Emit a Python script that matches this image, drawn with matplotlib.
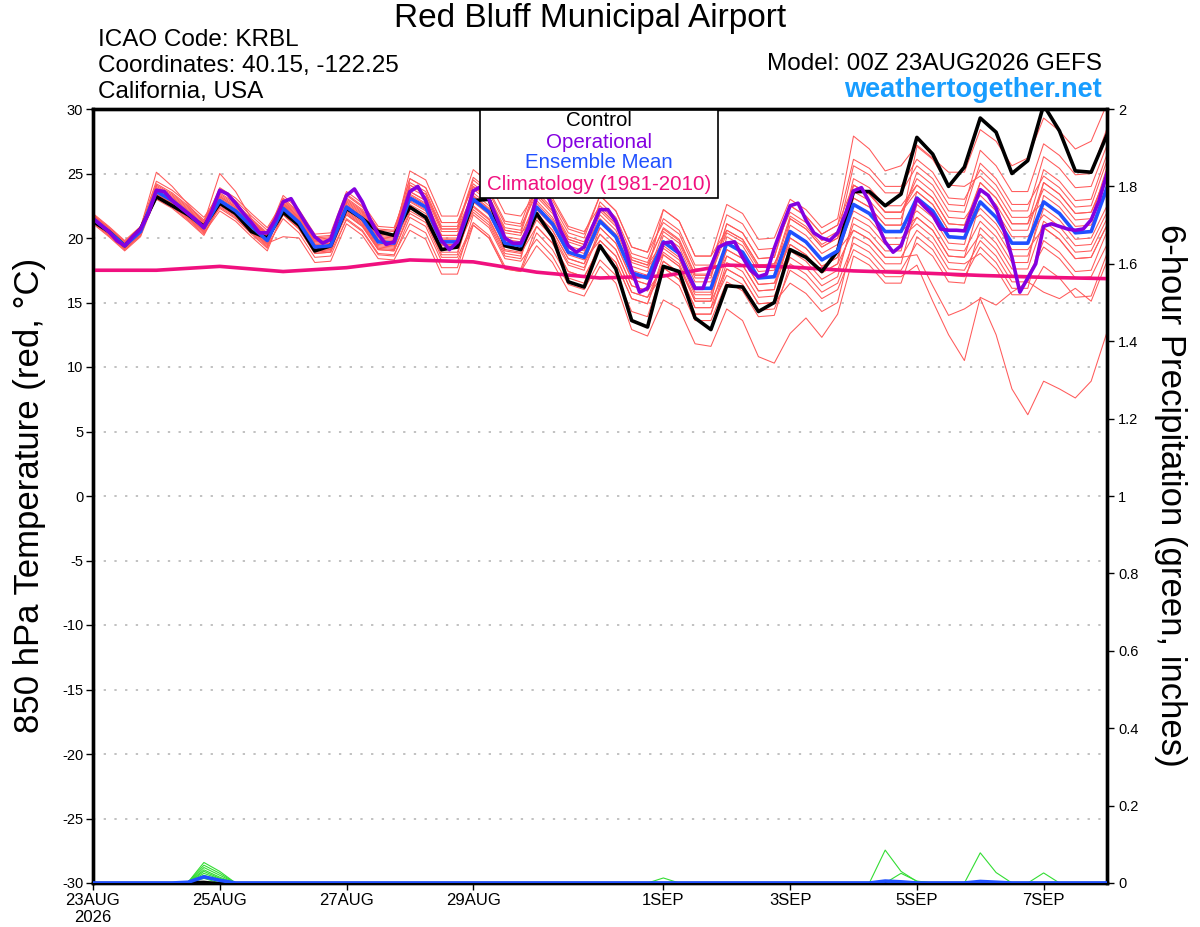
import numpy as np
import pandas as pd
import matplotlib
matplotlib.use("Agg")
import matplotlib.pyplot as plt
from matplotlib.patches import Rectangle

plt.rcParams['font.family'] = ['Liberation Sans', 'DejaVu Sans']

# ---------------- data ----------------
start = pd.Timestamp("2026-08-23 00:00")
times6 = pd.date_range(start, periods=65, freq="6h")
times3 = pd.date_range(start, periods=129, freq="3h")
times24 = pd.date_range(start, periods=17, freq="24h")

ens_mean = [21.5, 20.5, 19.4, 20.5, 23.6, 22.9, 21.9, 20.8, 22.9, 22.1, 20.9, 19.8,
            22.3, 21.2, 19.3, 19.4, 22.4, 21.5, 19.7, 19.6, 23.1, 22.4, 19.7, 19.7,
            23.0, 22.0, 19.6, 19.4, 22.4, 21.1, 18.9, 18.5, 21.3, 20.1, 17.3, 16.9,
            19.7, 18.8, 16.1, 16.1, 19.6, 18.9, 16.9, 17.0, 20.5, 19.7, 18.3, 19.0,
            22.6, 21.9, 20.5, 20.5, 23.1, 22.1, 20.1, 20.0, 22.8, 21.6, 19.6, 19.6,
            22.8, 21.9, 20.4, 20.5, 23.9]

control = [21.3, 20.5, 19.4, 20.7, 23.2, 22.5, 21.8, 20.9, 22.7, 21.9, 20.5, 20.0,
           22.0, 21.0, 19.0, 19.4, 22.3, 21.5, 20.5, 20.2, 22.4, 21.6, 19.1, 19.3,
           22.9, 23.0, 19.4, 19.1, 21.9, 20.1, 16.6, 16.2, 19.4, 17.6, 13.6, 13.1,
           17.8, 17.4, 13.8, 12.9, 16.3, 16.2, 14.3, 15.0, 19.1, 18.5, 17.4, 19.0,
           23.6, 23.6, 22.5, 23.4, 27.8, 26.5, 24.0, 25.5, 29.3, 28.2, 25.0, 26.0,
           30.3, 28.3, 25.2, 25.1, 28.0]

operational = [21.5, 21.0, 20.5, 19.8, 19.4, 20.1, 20.7, 21.9, 23.7, 23.6, 22.9, 22.4,
               21.9, 21.4, 20.8, 22.1, 23.7, 23.4, 22.7, 21.9, 21.2, 20.4, 20.4, 21.4,
               22.8, 23.05, 22.0, 21.0, 20.1, 19.6, 19.9, 21.7, 23.3, 23.8, 22.8, 21.4,
               20.3, 19.5, 19.7, 21.7, 23.6, 24.0, 22.9, 21.2, 19.8, 19.1, 19.7, 21.6,
               23.65, 24.0, 23.0, 21.5, 20.0, 19.6, 19.6, 20.8, 23.2, 23.9, 22.4, 20.6,
               19.4, 18.9, 19.3, 20.8, 22.2, 22.2, 21.3, 19.6, 17.5, 15.8, 16.1, 17.8,
               19.6, 19.7, 18.8, 17.3, 16.1, 16.1, 17.8, 19.3, 19.6, 19.7, 18.5, 17.5,
               17.0, 17.2, 19.2, 20.9, 22.5, 22.7, 21.4, 20.4, 20.0, 19.8, 20.4, 21.9,
               23.65, 23.9, 22.8, 21.1, 19.7, 18.9, 19.4, 21.1, 23.05, 22.4, 21.8, 20.7,
               20.6, 20.6, 20.55, 22.2, 23.75, 23.3, 22.3, 20.6, 18.5, 15.8, 16.9, 18.0,
               20.9, 21.1, 20.9, 20.7, 20.6, 20.7, 21.4, 22.9, 25.0]

climatology = [17.5, 17.5, 17.8, 17.4, 17.7, 18.3, 18.15, 17.35, 16.9, 17.05, 17.9,
               17.75, 17.45, 17.3, 17.1, 16.95, 16.85]

members = [
    [21.7, 20.7, 19.6, 20.7, 24.1, 23.4, 22.4, 21.3, 23.7, 22.9, 21.7, 20.6, 22.9, 21.8, 19.9, 20.0,
     23.3, 22.4, 20.6, 20.5, 24.6, 23.9, 21.2, 21.2, 24.2, 23.2, 20.8, 20.6, 24.2, 22.9, 20.7, 20.3,
     23.3, 22.1, 19.3, 18.9, 22.2, 21.3, 18.6, 18.6, 22.6, 21.9, 19.9, 20.0, 23.0, 22.2, 20.8, 21.5,
     27.9, 26.9, 25.2, 25.6, 27.2, 26.2, 25.1, 25.1, 28.4, 27.5, 25.6, 26.2, 29.3, 28.3, 26.9, 27.5, 30.4],
    [21.3, 20.3, 19.2, 20.3, 23.3, 22.6, 21.6, 20.5, 22.9, 22.1, 20.9, 19.8, 21.9, 20.8, 18.9, 19.0,
     22.2, 21.3, 19.5, 19.4, 22.3, 21.6, 18.9, 18.9, 22.5, 21.5, 19.1, 18.9, 21.4, 20.1, 17.9, 17.5,
     20.8, 19.6, 16.8, 16.4, 20.2, 19.3, 16.6, 16.6, 19.6, 18.9, 16.9, 17.0, 19.5, 18.7, 17.3, 18.0,
     20.6, 19.9, 18.5, 18.5, 18.7, 16.3, 14.0, 14.5, 15.3, 12.5, 8.3, 6.3, 8.9, 8.3, 7.6, 8.9, 12.7],
    [21.6, 20.6, 19.5, 20.6, 23.1, 22.4, 21.4, 20.3, 22.6, 21.8, 20.6, 19.5, 22.5, 21.4, 19.5, 19.6,
     21.8, 20.9, 19.1, 19.0, 21.9, 21.2, 18.5, 18.5, 21.2, 20.2, 17.8, 17.6, 20.9, 19.6, 17.4, 17.0,
     19.3, 18.1, 15.3, 14.9, 18.2, 17.3, 14.6, 14.6, 17.1, 16.4, 14.4, 14.5, 17.5, 16.7, 15.3, 16.0,
     19.1, 18.4, 17.0, 17.0, 17.9, 15.1, 12.5, 10.5, 15.4, 14.8, 15.8, 16.6, 15.8, 15.3, 16.1, 15.1, 18.2],
    [21.2, 20.2, 19.1, 20.2, 23.4, 22.7, 21.7, 20.6, 22.3, 21.5, 20.3, 19.2, 21.8, 20.7, 18.8, 18.9,
     21.4, 20.5, 18.7, 18.6, 21.6, 20.9, 18.2, 18.2, 21.0, 20.0, 17.6, 17.4, 19.4, 18.1, 15.9, 15.5,
     17.8, 16.5, 12.9, 12.4, 15.2, 14.5, 11.8, 11.6, 14.5, 13.6, 10.8, 10.3, 12.6, 13.8, 12.3, 14.1,
     18.6, 17.9, 16.5, 16.5, 20.1, 19.1, 17.1, 17.0, 19.3, 18.1, 16.1, 16.1, 20.8, 19.9, 18.4, 18.5, 21.0],
    [21.8, 20.8, 19.7, 20.8, 25.1, 24.0, 22.6, 21.2, 25.0, 23.6, 21.5, 20.2, 23.1, 22.0, 20.1, 20.2,
     22.9, 22.0, 20.2, 20.1, 25.2, 24.5, 21.7, 21.7, 25.3, 24.3, 21.9, 21.7, 23.6, 22.3, 20.1, 19.7,
     22.3, 21.1, 18.3, 17.9, 20.8, 19.9, 17.2, 17.2, 21.1, 20.4, 18.4, 18.5, 22.5, 21.7, 20.3, 21.0,
     26.1, 25.4, 24.0, 24.0, 26.1, 25.1, 23.1, 23.0, 25.3, 24.1, 22.1, 22.1, 26.3, 25.4, 23.9, 24.0, 27.2],
    [21.4, 20.4, 19.3, 20.4, 23.8, 23.1, 22.1, 21.0, 23.2, 22.4, 21.2, 20.1, 22.1, 21.0, 19.1, 19.2,
     22.7, 21.8, 20.0, 19.9, 23.6, 22.9, 20.2, 20.2, 23.8, 22.8, 20.4, 20.2, 22.9, 21.6, 19.4, 19.0,
     22.8, 21.6, 18.8, 18.4, 21.5, 20.6, 17.9, 17.9, 21.8, 21.1, 19.1, 19.2, 22.0, 21.2, 19.8, 20.5,
     23.6, 22.9, 21.5, 21.5, 25.1, 24.1, 22.1, 22.0, 25.8, 24.6, 22.6, 22.6, 24.8, 23.9, 22.4, 22.5, 26.0],
    [21.5, 20.5, 19.4, 20.5, 23.0, 22.3, 21.3, 20.2, 22.5, 21.7, 20.5, 19.4, 21.5, 20.4, 18.5, 18.6,
     21.5, 20.6, 18.8, 18.7, 21.1, 20.4, 17.7, 17.7, 21.8, 20.8, 18.4, 18.2, 19.9, 18.6, 16.4, 16.0,
     18.3, 17.1, 14.3, 13.9, 17.7, 16.8, 14.1, 14.1, 18.1, 17.4, 15.4, 15.5, 18.5, 17.7, 16.3, 17.0,
     21.6, 20.9, 19.5, 19.5, 21.6, 20.6, 18.6, 18.5, 20.3, 19.1, 17.1, 17.1, 19.3, 18.4, 16.9, 17.0, 19.5],
    [21.9, 20.9, 19.8, 20.9, 24.4, 23.7, 22.7, 21.6, 23.4, 22.6, 21.4, 20.3, 23.3, 22.2, 20.3, 20.4,
     23.6, 22.7, 20.9, 20.8, 23.9, 23.2, 20.5, 20.5, 23.3, 22.3, 19.9, 19.7, 21.9, 20.6, 18.4, 18.0,
     20.3, 19.1, 16.3, 15.9, 19.2, 18.3, 15.6, 15.6, 19.6, 18.9, 16.9, 17.0, 21.0, 20.2, 18.8, 19.5,
     24.6, 23.9, 22.5, 22.5, 24.1, 23.1, 21.1, 21.0, 21.8, 20.6, 18.6, 18.6, 22.3, 21.4, 19.9, 20.0, 22.5],
    [21.1, 20.1, 19.0, 20.1, 23.2, 22.5, 21.5, 20.4, 22.1, 21.3, 20.1, 19.0, 22.0, 20.9, 19.0, 19.1,
     22.6, 21.7, 19.9, 19.8, 24.1, 23.4, 20.7, 20.7, 24.5, 23.5, 21.1, 20.9, 23.4, 22.1, 19.9, 19.5,
     21.3, 20.1, 17.3, 16.9, 18.7, 17.8, 15.1, 15.1, 17.6, 16.9, 14.9, 15.0, 16.5, 15.7, 14.3, 15.0,
     20.1, 19.4, 18.0, 18.0, 22.6, 21.6, 19.6, 19.5, 23.8, 22.6, 20.6, 20.6, 24.3, 23.4, 21.9, 22.0, 24.8],
    [21.6, 20.6, 19.5, 20.6, 23.7, 23.0, 22.0, 20.9, 23.0, 22.2, 21.0, 19.9, 22.7, 21.6, 19.7, 19.8,
     22.1, 21.2, 19.4, 19.3, 22.6, 21.9, 19.2, 19.2, 22.0, 21.0, 18.6, 18.4, 22.7, 21.4, 19.2, 18.8,
     21.8, 20.6, 17.8, 17.4, 22.2, 21.3, 18.6, 18.6, 20.6, 19.9, 17.9, 18.0, 20.5, 19.7, 18.3, 19.0,
     22.1, 21.4, 20.0, 20.0, 21.1, 20.1, 18.1, 18.0, 18.8, 17.6, 15.6, 15.6, 17.8, 16.9, 15.4, 15.5, 18.8],
    [21.3, 20.3, 19.2, 20.3, 23.9, 23.2, 22.2, 21.1, 23.9, 23.1, 21.9, 20.8, 22.8, 21.7, 19.8, 19.9,
     22.8, 21.9, 20.1, 20.0, 24.1, 23.4, 20.7, 20.7, 23.5, 22.5, 20.1, 19.9, 22.2, 20.9, 18.7, 18.3,
     19.8, 18.6, 15.8, 15.4, 18.2, 17.3, 14.6, 14.6, 18.6, 17.9, 15.9, 16.0, 21.5, 20.7, 19.3, 20.0,
     24.1, 23.4, 22.0, 22.0, 23.6, 22.6, 20.6, 20.5, 24.3, 23.1, 21.1, 21.1, 23.8, 22.9, 21.4, 21.5, 25.5],
    [21.7, 20.7, 19.6, 20.7, 23.5, 22.8, 21.8, 20.7, 22.7, 21.9, 20.7, 19.6, 20.1, 20.0, 18.1, 18.2,
     21.1, 20.2, 18.4, 18.3, 20.6, 19.9, 17.2, 17.2, 21.0, 20.0, 17.6, 17.4, 20.4, 19.1, 16.9, 16.5,
     19.8, 18.6, 15.8, 15.4, 17.2, 16.3, 13.6, 13.6, 16.6, 15.9, 13.9, 14.0, 18.0, 17.2, 15.8, 16.5,
     19.6, 18.9, 17.5, 17.5, 19.6, 18.6, 16.6, 16.5, 20.8, 19.6, 17.6, 17.6, 21.3, 20.4, 18.9, 19.0, 21.5],
    [21.5, 20.5, 19.4, 20.5, 24.0, 23.3, 22.3, 21.2, 22.8, 22.0, 20.8, 19.7, 22.4, 21.3, 19.4, 19.5,
     23.0, 22.1, 20.3, 20.2, 24.3, 23.6, 20.9, 20.9, 24.7, 23.7, 21.3, 21.1, 24.4, 23.1, 20.9, 20.5,
     22.5, 21.3, 18.5, 18.1, 20.7, 19.8, 17.1, 17.1, 20.4, 19.7, 17.7, 17.8, 21.7, 20.9, 19.5, 20.2,
     25.6, 24.9, 23.5, 23.5, 25.6, 24.6, 22.6, 22.5, 26.8, 25.6, 23.6, 23.6, 27.3, 26.4, 24.9, 25.0, 28.5],
    [21.4, 20.4, 19.3, 20.4, 23.4, 22.7, 21.7, 20.6, 23.3, 22.5, 21.3, 20.2, 22.2, 21.1, 19.2, 19.3,
     22.0, 21.1, 19.3, 19.2, 22.8, 22.1, 19.4, 19.4, 23.2, 22.2, 19.8, 19.6, 23.4, 22.1, 19.9, 19.5,
     22.1, 20.9, 18.1, 17.7, 19.4, 18.5, 15.8, 15.8, 19.1, 18.4, 16.4, 16.5, 19.0, 18.2, 16.8, 17.5,
     21.1, 20.4, 19.0, 19.0, 23.6, 22.6, 20.6, 20.5, 22.3, 21.1, 19.1, 19.1, 20.8, 19.9, 18.4, 18.5, 21.0],
    [21.7, 20.7, 19.6, 20.7, 23.7, 23.0, 22.0, 20.9, 22.4, 21.6, 20.4, 19.3, 22.6, 21.5, 19.6, 19.7,
     22.5, 21.6, 19.8, 19.7, 23.4, 22.7, 20.0, 20.0, 22.4, 21.4, 19.0, 18.8, 20.9, 19.6, 17.4, 17.0,
     19.3, 18.1, 15.3, 14.9, 18.7, 17.8, 15.1, 15.1, 20.1, 19.4, 17.4, 17.5, 21.5, 20.7, 19.3, 20.0,
     23.1, 22.4, 21.0, 21.0, 22.1, 21.1, 19.1, 19.0, 21.3, 20.1, 18.1, 18.1, 23.3, 22.4, 20.9, 21.0, 23.5],
    [21.2, 20.2, 19.1, 20.2, 23.6, 22.9, 21.9, 20.8, 23.1, 22.3, 21.1, 20.0, 23.0, 21.9, 20.0, 20.1,
     23.1, 22.2, 20.4, 20.3, 22.9, 22.2, 19.5, 19.5, 22.2, 21.2, 18.8, 18.6, 21.9, 20.6, 18.4, 18.0,
     21.5, 20.3, 17.5, 17.1, 20.5, 19.6, 16.9, 16.9, 21.1, 20.4, 18.4, 18.5, 22.5, 21.7, 20.3, 21.0,
     24.1, 23.4, 22.0, 22.0, 24.6, 23.6, 21.6, 21.5, 23.3, 22.1, 20.1, 20.1, 21.8, 20.9, 19.4, 19.5, 22.0],
    [21.8, 20.8, 19.7, 20.8, 24.2, 23.5, 22.5, 21.4, 23.5, 22.7, 21.5, 20.4, 22.5, 21.4, 19.5, 19.6,
     21.9, 21.0, 19.2, 19.1, 23.3, 22.6, 19.9, 19.9, 24.0, 23.0, 20.6, 20.4, 23.9, 22.6, 20.4, 20.0,
     23.3, 22.1, 19.3, 18.9, 21.2, 20.3, 17.6, 17.6, 20.6, 19.9, 17.9, 18.0, 20.5, 19.7, 18.3, 19.0,
     20.6, 19.9, 18.5, 18.5, 20.6, 19.6, 17.6, 17.5, 19.8, 18.6, 16.6, 16.6, 19.8, 18.9, 17.4, 17.5, 20.5],
    [21.4, 20.4, 19.3, 20.4, 23.3, 22.6, 21.6, 20.5, 23.2, 22.4, 21.2, 20.1, 21.8, 20.7, 18.8, 18.9,
     22.5, 21.6, 19.8, 19.7, 23.6, 22.9, 20.2, 20.2, 23.0, 22.0, 19.6, 19.4, 23.2, 21.9, 19.7, 19.3,
     22.3, 21.1, 18.3, 17.9, 19.7, 18.8, 16.1, 16.1, 18.6, 17.9, 15.9, 16.0, 20.0, 19.2, 17.8, 18.5,
     23.1, 22.4, 21.0, 21.0, 27.1, 26.1, 24.1, 24.0, 24.8, 23.6, 21.6, 21.6, 22.8, 21.9, 20.4, 20.5, 24.0],
    [21.6, 20.6, 19.5, 20.6, 23.8, 23.1, 22.1, 21.0, 22.6, 21.8, 20.6, 19.5, 22.7, 21.6, 19.7, 19.8,
     23.4, 22.5, 20.7, 20.6, 24.6, 23.9, 21.2, 21.2, 24.0, 23.0, 20.6, 20.4, 21.6, 20.3, 18.1, 17.7,
     20.3, 19.1, 16.3, 15.9, 17.7, 16.8, 14.1, 14.1, 17.6, 16.9, 14.9, 15.0, 19.5, 18.7, 17.3, 18.0,
     24.1, 23.4, 22.0, 22.0, 24.1, 23.1, 21.1, 21.0, 24.3, 23.1, 21.1, 21.1, 25.3, 24.4, 22.9, 23.0, 26.5],
    [21.3, 20.3, 19.2, 20.3, 23.7, 23.0, 22.0, 20.9, 22.8, 22.0, 20.8, 19.7, 22.0, 20.9, 19.0, 19.1,
     21.8, 20.9, 19.1, 19.0, 22.1, 21.4, 18.7, 18.7, 22.8, 21.8, 19.4, 19.2, 22.4, 21.1, 18.9, 18.5,
     20.8, 19.6, 16.8, 16.4, 18.9, 18.0, 15.3, 15.3, 19.1, 18.4, 16.4, 16.5, 20.0, 19.2, 17.8, 18.5,
     22.6, 21.9, 20.5, 20.5, 21.6, 20.6, 18.6, 18.5, 22.8, 21.6, 19.6, 19.6, 24.3, 23.4, 21.9, 22.0, 25.0],
]

# 6-hour precipitation (inches): non-zero values per member (index -> value), zero elsewhere
precip_member_events = [
    {6: 0.002, 7: 0.053, 8: 0.030},
    {6: 0.002, 7: 0.046, 8: 0.025},
    {7: 0.040, 8: 0.020},
    {7: 0.034, 8: 0.015},
    {7: 0.030, 8: 0.012},
    {7: 0.025, 8: 0.010},
    {7: 0.020, 8: 0.006},
    {7: 0.012},
    {36: 0.013},
    {50: 0.085, 51: 0.030, 52: 0.004},
    {51: 0.025, 52: 0.005},
    {56: 0.078, 57: 0.027},
    {60: 0.026},
    {}, {}, {}, {}, {}, {}, {},
]
precip_mean_events = {6: 0.002, 7: 0.016, 8: 0.007, 50: 0.005, 51: 0.003, 56: 0.004, 57: 0.002}
precip_control_events = {6: 0.003, 7: 0.004}

xtick_days = ["2026-08-23", "2026-08-25", "2026-08-27", "2026-08-29",
              "2026-09-01", "2026-09-03", "2026-09-05", "2026-09-07"]
xtick_labels = ["23AUG\n2026", "25AUG", "27AUG", "29AUG", "1SEP", "3SEP", "5SEP", "7SEP"]
ytick_left = list(range(-30, 31, 5))
ytick_right = [0, 0.2, 0.4, 0.6, 0.8, 1.0, 1.2, 1.4, 1.6, 1.8, 2.0]
ytick_right_labels = ["0", "0.2", "0.4", "0.6", "0.8", "1", "1.2", "1.4", "1.6", "1.8", "2"]


def series_from_events(ev, n=65):
    arr = np.zeros(n)
    for k, v in ev.items():
        arr[k] = v
    return arr


# ---------------- figure ----------------
W, H = 1200, 927
fig = plt.figure(figsize=(W / 100, H / 100), dpi=100)
L, R, T, B = 93, 1107, 109, 883
ax = fig.add_axes([L / W, (H - B) / H, (R - L) / W, (B - T) / H])

C_MEMBER = '#ff5a5a'
C_OPER = '#8400e0'
C_MEAN = '#2050ff'
C_CLIM = '#f0107f'
C_GREEN = '#33dd33'

for m in members:
    ax.plot(times6, m, color=C_MEMBER, lw=0.75, zorder=2)
ax.plot(times24, climatology, color=C_CLIM, lw=2.6, zorder=3)
ax.plot(times6, control, color='black', lw=2.6, zorder=4)
ax.plot(times6, ens_mean, color=C_MEAN, lw=2.6, zorder=5)
ax.plot(times3, operational, color=C_OPER, lw=2.6, zorder=6)

ax.set_xlim(times6[0], times6[-1])
ax.set_ylim(-30, 30)
ax.set_yticks(ytick_left)
ax.set_yticklabels([str(v) for v in ytick_left])
ax.set_xticks(pd.to_datetime(xtick_days))
ax.set_xticklabels(xtick_labels)
ax.yaxis.grid(True, linestyle=(0, (1.5, 5.5)), color='#b0b0b0', linewidth=1.1)
ax.set_axisbelow(True)
ax.tick_params(axis='both', direction='out', length=5, width=1, colors='black')
ax.tick_params(axis='y', labelsize=10.5, pad=2)
ax.tick_params(axis='x', labelsize=12, pad=2)
for lab in ax.get_xticklabels():
    lab.set_linespacing(1.15)
for sp in ax.spines.values():
    sp.set_linewidth(2.4)

ax2 = ax.twinx()
for ev in precip_member_events:
    ax2.plot(times6, series_from_events(ev), color=C_GREEN, lw=0.8, zorder=2)
ax2.plot(times6, series_from_events(precip_control_events), color='black', lw=1.2, zorder=3)
ax2.plot(times6, series_from_events(precip_mean_events), color=C_MEAN, lw=2.6, zorder=4)
ax2.set_ylim(0, 2)
ax2.set_yticks(ytick_right)
ax2.set_yticklabels(ytick_right_labels)
ax2.tick_params(axis='y', direction='out', length=5, width=1, labelsize=10.5, pad=3)
for sp in ax2.spines.values():
    sp.set_linewidth(2.4)
ax2.set_xlim(times6[0], times6[-1])

# ---------------- texts ----------------
fig.text(590 / W, 1 - 19 / H, "Red Bluff Municipal Airport", ha='center', va='center', fontsize=24)
fig.text(98 / W, 1 - 40 / H, "ICAO Code: KRBL", ha='left', va='center', fontsize=17.5)
fig.text(98 / W, 1 - 66 / H, "Coordinates: 40.15, -122.25", ha='left', va='center', fontsize=17.5)
fig.text(98 / W, 1 - 92 / H, "California, USA", ha='left', va='center', fontsize=17.5)
fig.text(1102 / W, 1 - 64 / H, "Model: 00Z 23AUG2026 GEFS", ha='right', va='center', fontsize=17.5)
fig.text(1102 / W, 1 - 90 / H, "weathertogether.net", ha='right', va='center', fontsize=19.5,
         fontweight='bold', color='#189dff')
fig.text(30 / W, 1 - 495 / H, "850 hPa Temperature (red, °C)", rotation=90, ha='center', va='center',
         fontsize=25)
fig.text(1170 / W, 1 - 495 / H, "6-hour Precipitation (green, inches)", rotation=-90, ha='center',
         va='center', fontsize=25)

# legend box
fig.add_artist(Rectangle((480 / W, 1 - 198 / H), 238 / W, 88 / H, transform=fig.transFigure,
                         facecolor='white', edgecolor='black', lw=1.2, zorder=10))
for txt, col, yy in [("Control", 'black', 121), ("Operational", C_OPER, 142),
                     ("Ensemble Mean", C_MEAN, 163), ("Climatology (1981-2010)", C_CLIM, 185)]:
    fig.text(599 / W, 1 - yy / H, txt, color=col, ha='center', va='center', fontsize=14.8, zorder=11)

fig.savefig("out.png", dpi=100)
